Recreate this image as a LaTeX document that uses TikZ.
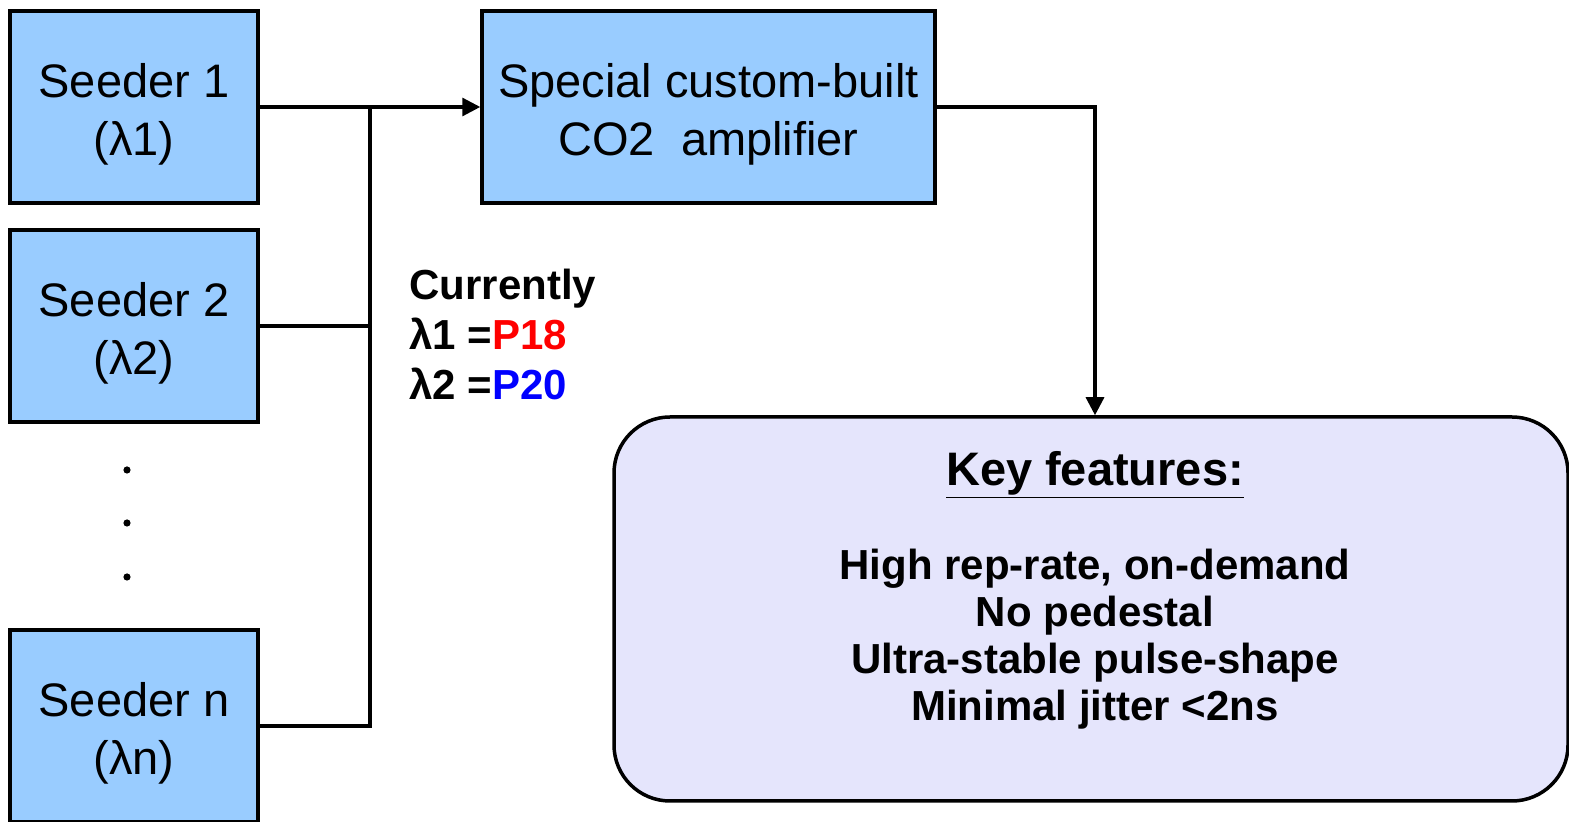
\documentclass[tikz,border=0pt]{standalone}
\usepackage{fontspec}
\setmainfont{Liberation Sans}
\usetikzlibrary{arrows.meta}

\definecolor{seedblue}{RGB}{153,204,255}
\definecolor{keylilac}{RGB}{229,229,252}
\definecolor{pred}{RGB}{255,0,0}
\definecolor{pblue}{RGB}{0,0,255}

\tikzset{
    unit/.style = {draw, line width=1.75pt, fill=seedblue, minimum width=124pt, minimum height=96pt,
        inner sep=0pt, label={[yshift=-3.5pt, align=center, font=\fontsize{23.5}{29}\selectfont]center:#1}},
    keybox/.style = {draw, line width=1.75pt, fill=keylilac, rounded corners=28pt,
        minimum width=477pt, minimum height=192pt},
    feed/.style = {line width=1.6pt},
    tip/.style = {-{Triangle[length=9pt,width=9pt]}},
    dot/.style = {circle, fill, inner sep=0pt, minimum size=3.6pt}
}

\begin{document}
\begin{tikzpicture}[x=0.5pt, y=-0.5pt]
    \useasboundingbox (0,0) rectangle (1569,822);

    % seeders and amplifier
    \node [unit={Seeder 1\\(λ1)}] (seedA) at (134,107) {};
    \node [unit={Seeder 2\\(λ2)}] (seedB) at (134,326) {};
    \node [unit={Seeder n\\(λn)}] (seedN) at (134,726) {};
    \node [unit={Special custom-built\\CO2~ amplifier}, minimum width=226.5pt] (amp) at (708.5,107) {};

    \foreach \y [count=\i] in {470,523,577}
        \node [dot] (dot\i) at (127,\y) {};

    % output box
    \node [keybox] (keys) at (1091,609) {};
    \node [align=center, font=\bfseries\fontsize{21}{23.5}\selectfont] (feat) at (1095,590)
        {{\fontsize{23.5}{23.5}\selectfont\underline{Key features:}}\\[23.5pt]
         High rep-rate, on-demand\\No pedestal\\Ultra-stable pulse-shape\\Minimal jitter <2ns};

    \node [anchor=west, inner sep=0pt, align=left, font=\bfseries\fontsize{21}{25}\selectfont] (now) at (409,334)
        {Currently\\λ1 =\textcolor{pred}{P18}\\λ2 =\textcolor{pblue}{P20}};

    % connectors
    \coordinate (busTop) at (370,107);
    \coordinate (busEnd) at (370,726);
    \draw [feed, tip] (seedA.east) -- (amp.west);
    \draw [feed] (busTop) -- (busEnd) -- (seedN.east);
    \draw [feed] (seedB.east) -- (seedB.east -| busTop);
    \draw [feed, tip] (amp.east) -| ([xshift=2pt]keys.north);
\end{tikzpicture}
\end{document}
